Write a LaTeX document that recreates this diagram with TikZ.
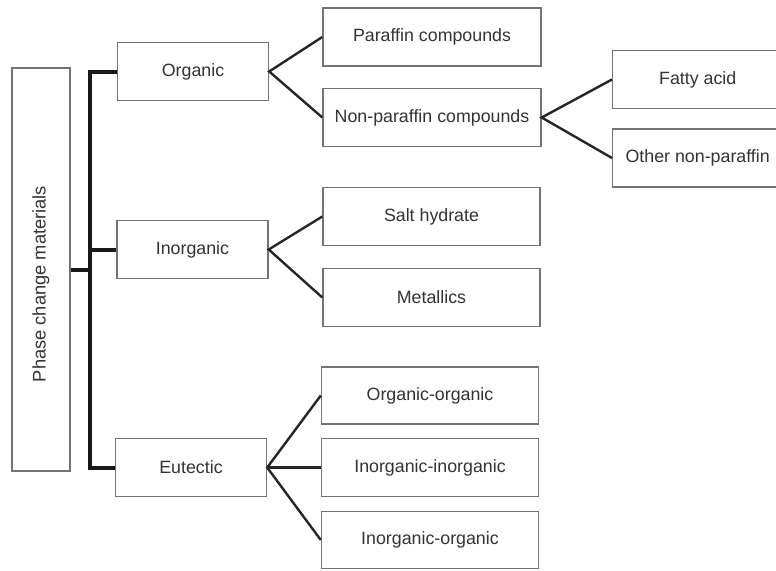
\documentclass[tikz,border=0pt]{standalone}
\usepackage{fontspec}
\setmainfont{Liberation Sans}
\begin{document}
\begin{tikzpicture}[x=1pt,y=-1pt,
  box/.style={draw=black!55,line width=1.4pt,fill=white,inner sep=0pt,
    text=black!80,font=\fontsize{17.8}{20}\selectfont},
  conn/.style={draw=black!85,line width=2.4pt},
  trunkline/.style={draw=black!90,line width=4pt,line join=miter}]
\useasboundingbox (0,0) rectangle (776,570);
\clip (0,0) rectangle (776,570);
\fill[white] (0,0) rectangle (776,570);
% root
\node[box,minimum width=58pt,minimum height=403pt] (root) at (41,269.5) {};
\node[text=black!80,font=\fontsize{18.3}{20}\selectfont,rotate=90] (rootlabel) at (41,284) {Phase change materials};
% level 1
\node[box,minimum width=151pt,minimum height=58pt] (organic) at (193,71.5) {Organic};
\node[box,minimum width=151pt,minimum height=58pt] (inorganic) at (192.5,249.5) {Inorganic};
\node[box,minimum width=151pt,minimum height=58pt] (eutectic) at (191,467.5) {Eutectic};
% level 2
\node[box,minimum width=218pt,minimum height=58pt] (paraffin) at (432,37) {Paraffin compounds};
\node[box,minimum width=218pt,minimum height=58pt] (nonpar) at (432,117.5) {Non-paraffin compounds};
\node[box,minimum width=217pt,minimum height=58pt] (salt) at (431.5,216.5) {Salt hydrate};
\node[box,minimum width=217pt,minimum height=58pt] (metal) at (431.5,297.5) {Metallics};
\node[box,minimum width=217pt,minimum height=57pt] (orgorg) at (430,395.5) {Organic-organic};
\node[box,minimum width=217pt,minimum height=58pt] (inin) at (430,467.5) {Inorganic-inorganic};
\node[box,minimum width=217pt,minimum height=57pt] (inorg) at (430,540) {Inorganic-organic};
% level 3
\node[box,minimum width=178pt,minimum height=58pt,anchor=west] (fatty) at (612,79.5) {\hspace*{-8pt}Fatty acid};
\node[box,minimum width=178pt,minimum height=58pt,anchor=west] (other) at (612,158) {\hspace*{-8pt}Other non-paraffin};
% trunk
\coordinate (tk) at (90,0);
\draw[trunkline] (organic.west) -- (organic.west -| tk) -- (eutectic.west -| tk) -- (eutectic.west);
\draw[trunkline] (root.east) -- (root.east -| tk);
\draw[trunkline] (inorganic.west) -- (inorganic.west -| tk);
% branches
\draw[conn] (paraffin.west) -- (organic.east) -- (nonpar.west);
\draw[conn] (salt.west) -- (inorganic.east) -- (metal.west);
\draw[conn] (orgorg.west) -- (eutectic.east) -- (inorg.west);
\draw[conn] (eutectic.east) -- (inin.west);
\draw[conn] (fatty.west) -- (nonpar.east) -- (other.west);
\end{tikzpicture}
\end{document}
